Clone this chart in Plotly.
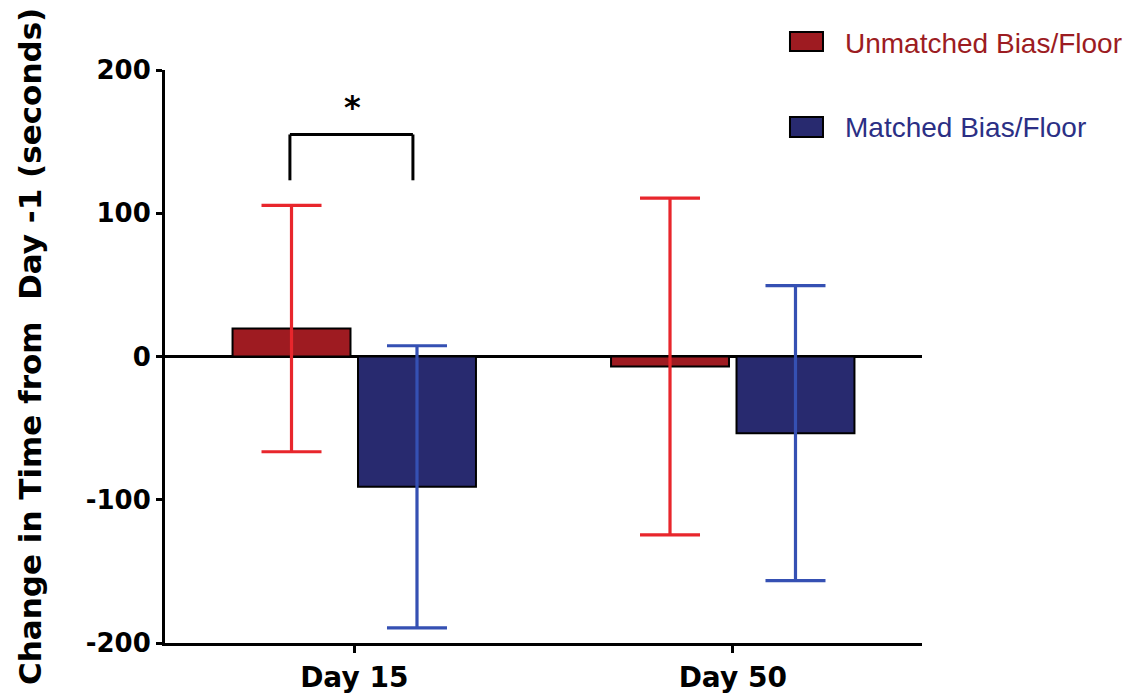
import plotly.graph_objects as go

categories = ["Day 15", "Day 50"]
series_names = ["Unmatched Bias/Floor", "Matched Bias/Floor"]
unmatched_mean = [19.5, -7]
unmatched_err = [86, 117.5]
matched_mean = [-91, -53.5]
matched_err = [98.5, 103]
y_ticks = [-200, -100, 0, 100, 200]
y_tick_text = ["-200", "-100", "0", "100", "200"]
y_title = "Change in Time from  Day -1 (seconds)"
sig_label = "*"
sig_top = 155
sig_bottom = 123
sig_star_y = 174

bar_fill = ["#9e1b21", "#282a6f"]
err_color = ["#e8262c", "#3550b3"]
text_color = ["#9c1c22", "#2b2f85"]

fig = go.Figure()
fig.add_trace(go.Bar(
    x=categories, y=unmatched_mean, name=series_names[0],
    marker=dict(color=bar_fill[0], line=dict(color="black", width=2)),
    error_y=dict(type="data", array=unmatched_err, visible=True,
                 color=err_color[0], thickness=3.2, width=30),
))
fig.add_trace(go.Bar(
    x=categories, y=matched_mean, name=series_names[1],
    marker=dict(color=bar_fill[1], line=dict(color="black", width=2)),
    error_y=dict(type="data", array=matched_err, visible=True,
                 color=err_color[1], thickness=3.2, width=30),
))

# significance bracket
fig.add_shape(type="line", xref="x", yref="y", x0=-0.17, x1=-0.17, y0=sig_bottom, y1=sig_top,
              line=dict(color="black", width=3))
fig.add_shape(type="line", xref="x", yref="y", x0=-0.17, x1=0.155, y0=sig_top, y1=sig_top,
              line=dict(color="black", width=3))
fig.add_shape(type="line", xref="x", yref="y", x0=0.155, x1=0.155, y0=sig_bottom, y1=sig_top,
              line=dict(color="black", width=3))
fig.add_annotation(x=-0.005, y=sig_star_y, xref="x", yref="y", text=sig_label, showarrow=False,
                   font=dict(family="DejaVu Sans", size=32, color="black", weight="bold"))

# y-axis title
fig.add_annotation(x=-0.1783, y=0.5166, xref="paper", yref="paper", text=y_title,
                   showarrow=False, textangle=-90, xanchor="center", yanchor="middle",
                   font=dict(family="DejaVu Sans", size=31, color="black", weight="bold"))

# manual legend
legend_rows = [(1.0663, 1.0332, 1.047), (0.918, 0.883, 0.899)]
for i, (y1, y0, yt) in enumerate(legend_rows):
    fig.add_shape(type="rect", xref="paper", yref="paper", x0=0.8256, x1=0.8692, y0=y0, y1=y1,
                  fillcolor=bar_fill[i], line=dict(color="black", width=2))
    fig.add_annotation(x=0.8957, y=yt, xref="paper", yref="paper", text=series_names[i],
                       showarrow=False, xanchor="left", yanchor="middle",
                       font=dict(family="Liberation Sans, Arial", size=28, color=text_color[i]))

fig.update_layout(
    width=1132, height=700,
    margin=dict(l=165, r=210, t=70, b=57, autoexpand=False),
    paper_bgcolor="white", plot_bgcolor="white",
    barmode="group", bargap=0.337, bargroupgap=0.06,
    showlegend=False,
    font=dict(family="DejaVu Sans", color="black"),
)
fig.update_xaxes(
    range=[-0.5, 1.5], showline=True, linecolor="black", linewidth=3,
    ticks="outside", ticklen=7, tickwidth=3, tickcolor="black",
    tickfont=dict(family="DejaVu Sans", size=28, color="black", weight="bold"),
    showgrid=False, zeroline=False, automargin=False,
)
fig.update_yaxes(
    range=[-200, 200], tickvals=y_ticks, ticktext=y_tick_text,
    showline=True, linecolor="black", linewidth=3,
    ticks="outside", ticklen=6, tickwidth=3, tickcolor="black",
    tickfont=dict(family="DejaVu Sans", size=26, color="black", weight="bold"),
    showgrid=False, zeroline=True, zerolinecolor="black", zerolinewidth=3,
    automargin=False,
)

fig.write_html(
    "out.html",
    config={"displayModeBar": False},
    post_script="document.body.style.margin='0';document.body.style.overflow='hidden';",
)
